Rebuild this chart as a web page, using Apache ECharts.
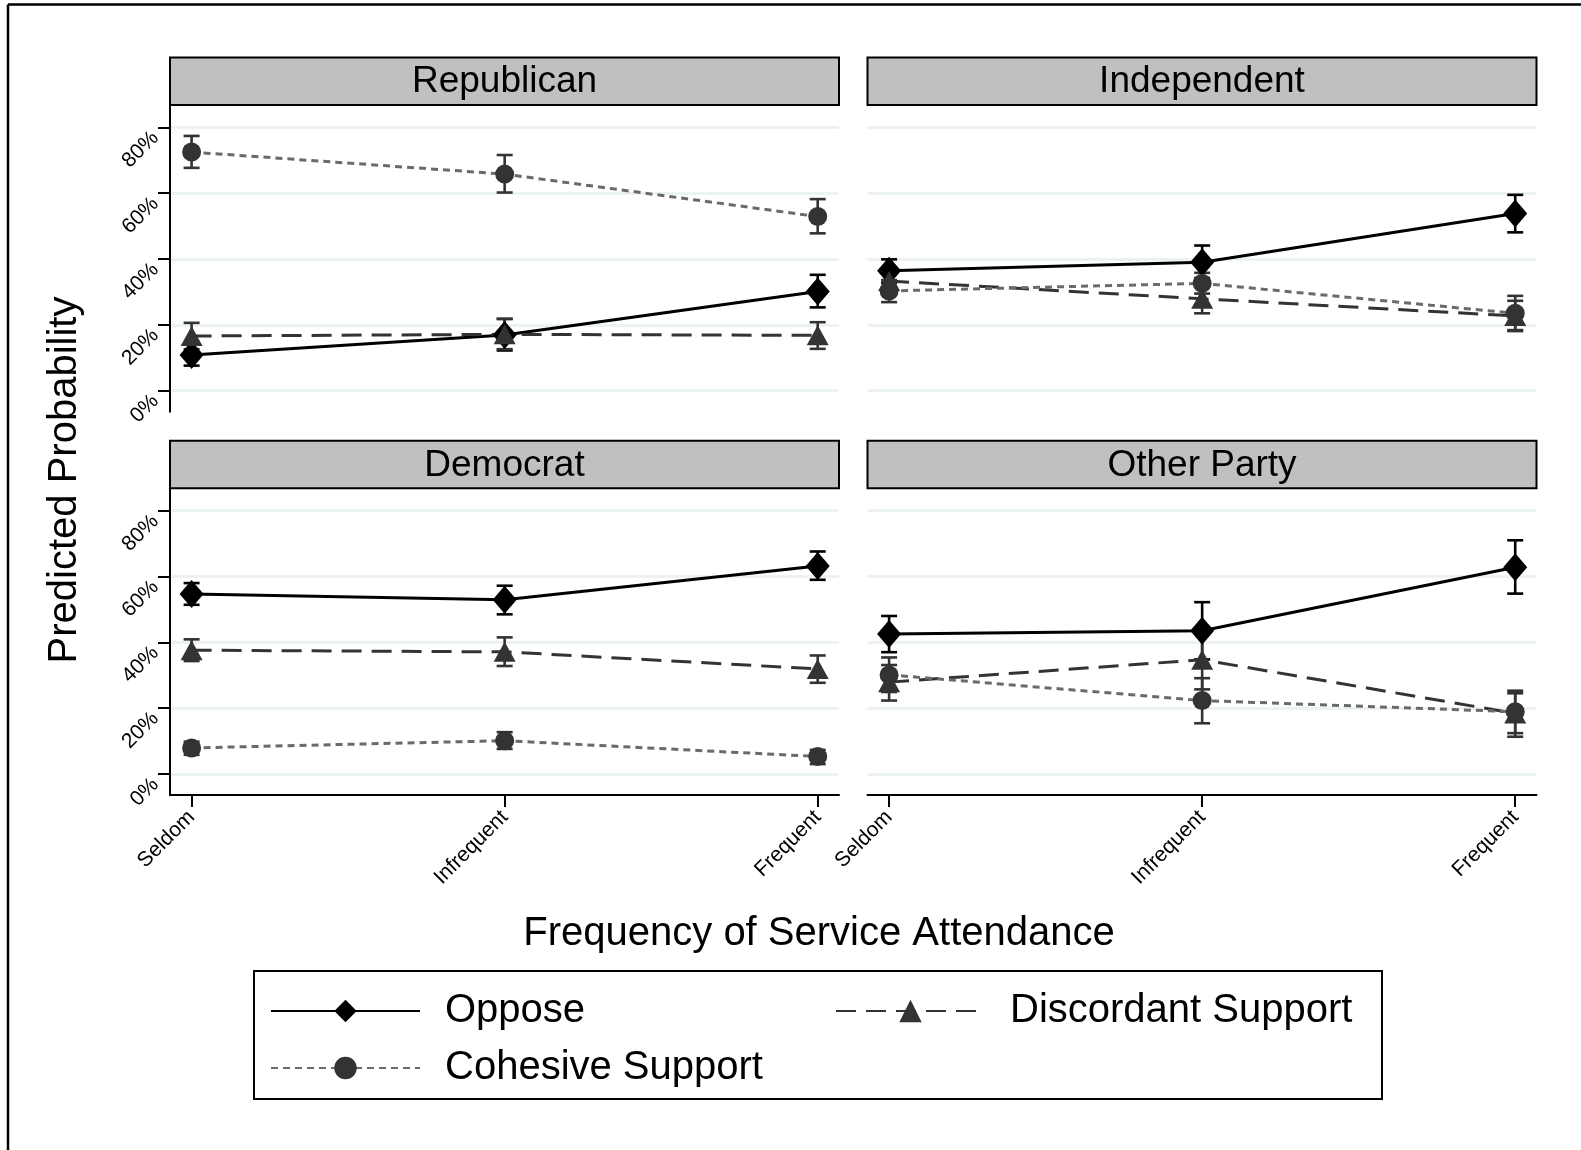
<!DOCTYPE html>
<html>
<head>
<meta charset="utf-8">
<script src="https://cdn.jsdelivr.net/npm/echarts@6/dist/echarts.min.js"></script>
<style>
  html, body { margin: 0; padding: 0; background: #fff; }
  #chart { width: 1581px; height: 1150px; }
</style>
</head>
<body>
<div id="chart"></div>
<script>
// Attendance categories and tick labels
const categories = ['Seldom', 'Infrequent', 'Frequent'];
const yTicks = [0, 20, 40, 60, 80];
const panelTitles = ['Republican', 'Independent', 'Democrat', 'Other Party'];
const seriesNames = ['Oppose', 'Discordant Support', 'Cohesive Support'];

// Predicted probability (%) per attendance level: [estimate, lower CI, upper CI]
const repOppose     = [[10.8, 7.6, 14.2], [16.9, 12.2, 21.8], [30.1, 25.3, 35.2]];
const repDiscordant = [[16.6, 12.6, 20.6], [17.1, 12.6, 21.8], [16.8, 12.7, 20.8]];
const repCohesive   = [[72.5, 67.7, 77.4], [65.8, 60.2, 71.6], [52.9, 47.8, 58.2]];

const indOppose     = [[36.4, 32.8, 39.9], [39.0, 34.2, 44.1], [53.8, 48.1, 59.5]];
const indDiscordant = [[33.3, 30.0, 36.7], [27.9, 23.5, 33.1], [22.7, 18.1, 27.3]];
const indCohesive   = [[30.3, 26.9, 33.6], [32.6, 29.5, 35.8], [23.5, 18.4, 28.8]];

const demOppose     = [[54.7, 51.4, 58.0], [52.9, 48.5, 57.2], [63.2, 59.0, 67.6]];
const demDiscordant = [[37.6, 34.3, 40.9], [37.1, 32.8, 41.5], [31.9, 27.7, 36.0]];
const demCohesive   = [[7.9, 5.8, 9.8], [10.1, 7.6, 12.7], [5.3, 3.0, 7.3]];

const othOppose     = [[42.5, 37.0, 48.0], [43.5, 34.8, 52.2], [62.8, 54.8, 71.0]];
const othDiscordant = [[27.9, 22.3, 33.1], [34.7, 25.7, 43.7], [18.4, 11.3, 24.5]];
const othCohesive   = [[30.1, 24.9, 35.4], [22.3, 15.4, 29.1], [18.9, 12.4, 25.3]];

const panelData = [
  [repOppose, repDiscordant, repCohesive],
  [indOppose, indDiscordant, indCohesive],
  [demOppose, demDiscordant, demCohesive],
  [othOppose, othDiscordant, othCohesive]
];

const FONT = '"Liberation Sans", Arial, Helvetica, sans-serif';

// Panel layout (pixels)
const plotLeft = [170, 867.5, 170, 867.5];
const plotTop = [105, 105, 488.3, 488.3];
const plotW = 669;
const plotH = 306.7;
const stripH = 47.5;

// Appearance per outcome
const markerColor = ['#000000', '#333333', '#333333'];
const lineColor = ['#000000', '#333333', '#6a6a6a'];
const lineType = ['solid', [20, 10], [7, 5]];
const symbols = ['diamond', 'triangle', 'circle'];
const symbolSizes = [[24, 28], [22, 20], [19, 19]];

function ciRender(params, api) {
  const x = api.value(0);
  const lo = api.coord([x, api.value(1)]);
  const hi = api.coord([x, api.value(2)]);
  const color = api.visual('color');
  const cap = 8;
  const st = { stroke: color, lineWidth: 2.6 };
  return {
    type: 'group',
    children: [
      { type: 'line', shape: { x1: lo[0], y1: lo[1], x2: hi[0], y2: hi[1] }, style: st },
      { type: 'line', shape: { x1: lo[0] - cap, y1: lo[1], x2: lo[0] + cap, y2: lo[1] }, style: st },
      { type: 'line', shape: { x1: hi[0] - cap, y1: hi[1], x2: hi[0] + cap, y2: hi[1] }, style: st }
    ]
  };
}

const grids = [], xAxes = [], yAxes = [], series = [], graphics = [];

for (let p = 0; p < 4; p++) {
  const isLeft = (p % 2 === 0);
  const isBottom = (p >= 2);
  grids.push({ left: plotLeft[p], top: plotTop[p], width: plotW, height: plotH, containLabel: false });

  xAxes.push({
    type: 'value', gridIndex: p, min: 0.931, max: 3.068,
    axisLine: { show: isBottom, onZero: false, lineStyle: { color: '#000', width: 2 } },
    axisTick: { show: isBottom, customValues: [1, 2, 3], length: 12, lineStyle: { color: '#000', width: 2 } },
    axisLabel: {
      show: isBottom, customValues: [1, 2, 3], rotate: 45, margin: 19,
      fontSize: 21, color: '#000', fontFamily: FONT,
      formatter: v => categories[Math.round(v) - 1]
    },
    splitLine: { show: false }
  });

  yAxes.push({
    type: 'value', gridIndex: p, min: -6.4, max: 86.8,
    axisLine: { show: isLeft, onZero: false, lineStyle: { color: '#000', width: 2 } },
    axisTick: { show: isLeft, customValues: yTicks, length: 12, lineStyle: { color: '#000', width: 2 } },
    axisLabel: {
      show: isLeft, customValues: yTicks, rotate: 45, margin: 22, verticalAlign: 'top',
      fontSize: 21, color: '#000', fontFamily: FONT,
      formatter: v => v + '%'
    },
    splitLine: { show: true, lineStyle: { color: '#e9f1f2', width: 2.5 } }
  });

  // error bars first, so lines and markers sit on top
  for (let s = 0; s < 3; s++) {
    series.push({
      type: 'custom', name: seriesNames[s] + ' CI',
      xAxisIndex: p, yAxisIndex: p,
      itemStyle: { color: markerColor[s] },
      renderItem: ciRender,
      encode: { x: 0, y: [1, 2] },
      data: panelData[p][s].map((d, i) => [i + 1, d[1], d[2]]),
      silent: true, z: 2
    });
  }
  for (let s = 0; s < 3; s++) {
    series.push({
      type: 'line', name: seriesNames[s],
      xAxisIndex: p, yAxisIndex: p,
      symbol: symbols[s], symbolSize: symbolSizes[s], showSymbol: true,
      itemStyle: { color: markerColor[s] },
      lineStyle: { color: lineColor[s], width: 3, type: lineType[s] },
      data: panelData[p][s].map((d, i) => [i + 1, d[0]]),
      silent: true, z: 3
    });
  }

  // panel title strip
  graphics.push({
    type: 'rect',
    shape: { x: plotLeft[p], y: plotTop[p] - stripH, width: plotW, height: stripH },
    style: { fill: '#c0c0c0', stroke: '#000', lineWidth: 2 },
    z: 10
  });
  graphics.push({
    type: 'text',
    x: plotLeft[p] + plotW / 2, y: plotTop[p] - stripH / 2 + 1,
    style: { text: panelTitles[p], fontSize: 37, fontFamily: FONT, fill: '#000', align: 'center', verticalAlign: 'middle' },
    z: 11
  });
}

// axis titles
graphics.push({
  type: 'text', x: 65, y: 480, rotation: Math.PI / 2,
  style: { text: 'Predicted Probability', fontSize: 40, fontFamily: FONT, fill: '#000', align: 'center', verticalAlign: 'middle' }
});
graphics.push({
  type: 'text', x: 819, y: 934,
  style: { text: 'Frequency of Service Attendance', fontSize: 40, fontFamily: FONT, fill: '#000', align: 'center', verticalAlign: 'middle' }
});

// legend frame
graphics.push({
  type: 'rect', shape: { x: 254, y: 971, width: 1128, height: 128 },
  style: { fill: 'none', stroke: '#000', lineWidth: 2 }, z: 0
});

// outer border (top and left)
graphics.push({ type: 'line', shape: { x1: 8, y1: 4.5, x2: 1581, y2: 4.5 }, style: { stroke: '#000', lineWidth: 2.5 } });
graphics.push({ type: 'line', shape: { x1: 8, y1: 4.5, x2: 8, y2: 1150 }, style: { stroke: '#000', lineWidth: 2.5 } });

function legendItem(name, left, top) {
  return {
    data: [name], left: left, top: top, padding: 0,
    itemWidth: 149, itemHeight: 28, selectedMode: false,
    textStyle: { fontSize: 40, fontFamily: FONT, color: '#000', padding: [0, 0, 0, 20] }
  };
}

const chart = echarts.init(document.getElementById('chart'), null, { renderer: 'canvas' });
chart.setOption({
  animation: false,
  backgroundColor: '#fff',
  grid: grids,
  xAxis: xAxes,
  yAxis: yAxes,
  series: series,
  legend: [
    legendItem('Oppose', 270, 991),
    legendItem('Discordant Support', 835, 991),
    legendItem('Cohesive Support', 270, 1048)
  ],
  graphic: graphics
});
</script>
</body>
</html>
